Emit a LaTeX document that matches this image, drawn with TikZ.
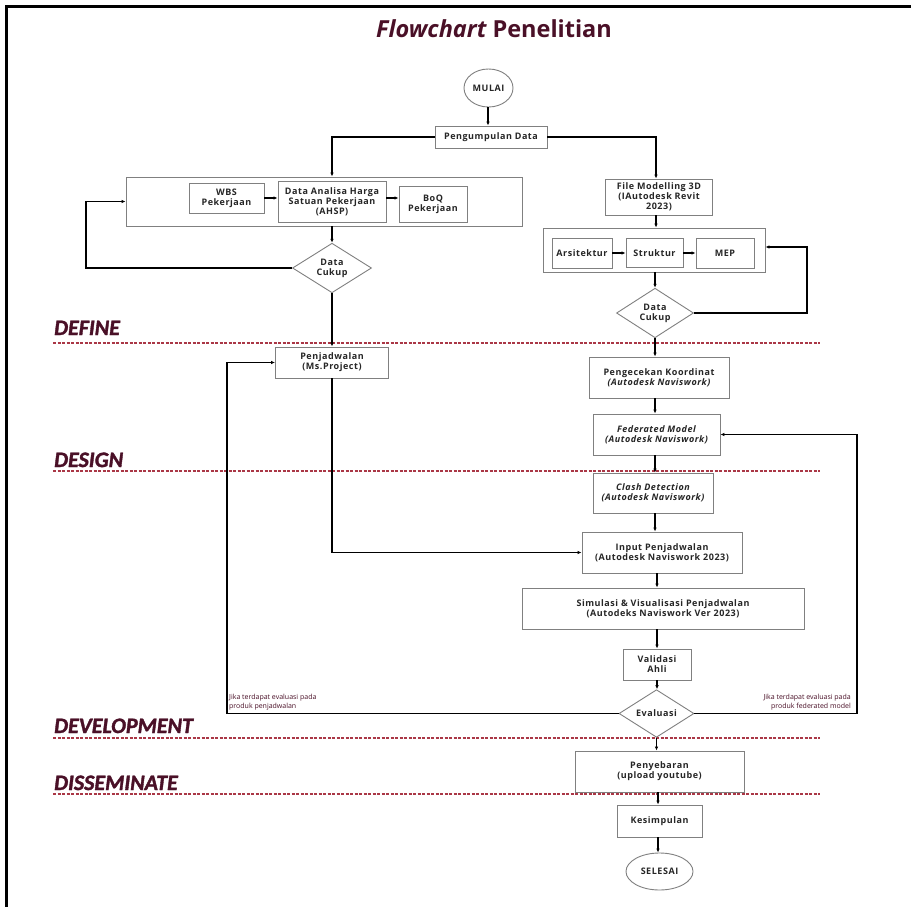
\documentclass[tikz,border=0pt]{standalone}
\usepackage{fontspec}
\setmainfont{Open Sans}
\newfontfamily\boxfont[LetterSpace=6]{Open Sans}
\newfontfamily\labfont[FakeBold=1.6]{Carlito}
\usetikzlibrary{shapes.geometric,arrows.meta}
\definecolor{maroon}{RGB}{74,16,39}
\definecolor{boxgray}{RGB}{128,128,128}
\definecolor{dashred}{RGB}{170,55,70}
\tikzset{
  box/.style={draw=boxgray, line width=0.9pt, fill=white, align=center, inner sep=0pt,
    font=\boxfont\bfseries\fontsize{9}{10}\selectfont, text=black!85},
  dia/.style={box, shape=diamond},
  term/.style={box, shape=ellipse},
  conn/.style={line width=1.1pt, -{Latex[length=4pt,width=3.5pt]}},
  phase/.style={font=\labfont\bfseries\itshape\fontsize{22}{22}\selectfont, text=maroon, anchor=base west, inner sep=0pt},
  divider/.style={draw=dashred, line width=1.2pt, dash pattern=on 3pt off 1.5pt},
  note/.style={font=\fontsize{7}{8.5}\selectfont, text=maroon, inner sep=0pt}
}
\begin{document}
\begin{tikzpicture}[x=1pt, y=-1pt]
\useasboundingbox (0,0) rectangle (911,907);
\fill[white] (0,0) rectangle (911,907);
\draw[line width=2.5pt] (6.5,907) -- (6.5,6.5) -- (911,6.5);

% title
\node[font=\bfseries\fontsize{23.5}{26}\selectfont, text=maroon, anchor=base, inner sep=0pt] (title) at (494,38) {{\itshape Flowchart} Penelitian};

% phase labels and dividers
\node[phase] (pdef) at (54,335) {DEFINE};
\node[phase] (pdes) at (54,467) {DESIGN};
\node[phase] (pdev) at (54,733) {DEVELOPMENT};
\node[phase] (pdis) at (54,790) {DISSEMINATE};
\coordinate (dl1) at (53,343); \coordinate (dr1) at (820,343);
\coordinate (dl2) at (53,471); \coordinate (dr2) at (820,471);
\coordinate (dl3) at (53,738); \coordinate (dr3) at (820,738);
\coordinate (dl4) at (53,794); \coordinate (dr4) at (820,794);
\draw[divider] (dl1) -- (dr1);
\draw[divider] (dl2) -- (dr2);
\draw[divider] (dl3) -- (dr3);
\draw[divider] (dl4) -- (dr4);

\coordinate (col) at (656,0);

% top
\node[term, minimum width=49pt, minimum height=38pt] (mulai) at (488.5,88) {MULAI};
\node[box, minimum width=112pt, minimum height=22pt] (peng) at (491,137) {Pengumpulan Data};

% left branch
\node[box, minimum width=396pt, minimum height=49pt] (lc) at (324,201.5) {};
\node[box, minimum width=75pt, minimum height=30pt] (wbs) at (226.5,198) {WBS\\Pekerjaan};
\node[box, minimum width=108pt, minimum height=41pt] (ahsp) at (332,201.5) {Data Analisa Harga\\Satuan Pekerjaan\\(AHSP)};
\node[box, minimum width=68pt, minimum height=36pt] (boq) at (433,204) {BoQ\\Pekerjaan};
\node[dia, minimum width=79pt, minimum height=46pt] (d1) at (332,268) {Data\\Cukup};
\node[box, minimum width=113pt, minimum height=31pt] (penj) at (332,362.5) {Penjadwalan\\(Ms.Project)};

% right branch
\node[box, minimum width=107pt, minimum height=36pt] (fm) at (659,197) {File Modelling 3D\\(IAutodesk Revit\\2023)};
\node[box, minimum width=222pt, minimum height=44pt] (rc) at (654,250) {};
\node[box, minimum width=60pt, minimum height=30pt] (ars) at (582,253) {Arsitektur};
\node[box, minimum width=57pt, minimum height=29pt] (str) at (654.5,253) {Struktur};
\node[box, minimum width=58pt, minimum height=30pt] (mep) at (725,253) {MEP};
\node[dia, minimum width=77pt, minimum height=40pt] (d2) at (655,313) {Data\\Cukup};
\node[box, minimum width=140pt, minimum height=41pt] (cek) at (659,377.5) {Pengecekan Koordinat\\{\itshape (Autodesk Naviswork)}};
\node[box, minimum width=127pt, minimum height=41pt] (fed) at (656.5,434.5) {{\itshape Federated Model}\\{\itshape (Autodesk Naviswork)}};
\node[box, minimum width=120pt, minimum height=40pt] (clash) at (653,493) {{\itshape Clash Detection}\\{\itshape (Autodesk Naviswork)}};
\node[box, minimum width=160pt, minimum height=41pt] (inp) at (662,552.5) {Input Penjadwalan\\(Autodesk Naviswork 2023)};
\node[box, minimum width=282pt, minimum height=41pt] (sim) at (663,608.5) {Simulasi \& Visualisasi Penjadwalan\\(Autodeks Naviswork Ver 2023)};
\node[box, minimum width=68pt, minimum height=31pt] (val) at (657,664.5) {Validasi\\Ahli};
\node[dia, minimum width=75pt, minimum height=37pt] (ev) at (656.5,713.5) {Evaluasi};
\node[box, minimum width=169pt, minimum height=41pt] (peny) at (659.5,771.5) {Penyebaran\\(upload youtube)};
\node[box, minimum width=85pt, minimum height=32pt] (kes) at (659.5,821) {Kesimpulan};
\node[term, minimum width=67pt, minimum height=37pt] (sel) at (659.5,871.5) {SELESAI};

% notes
\node[note, anchor=south west, align=left] (n1) at (229,710) {Jika terdapat evaluasi pada\\produk penjadwalan};
\node[note, anchor=south east, align=right] (n2) at (851,710) {Jika terdapat evaluasi pada\\produk federated model};

% connectors
\draw[conn] (mulai.south -| peng) ++(-3,0) -- ([xshift=-3pt]peng.north);
\draw[conn] (peng.west) -| (ahsp |- lc.north);
\draw[conn] (wbs.east) -- (ahsp.west |- wbs.east);
\draw[conn] (ahsp.east |- wbs.east) -- (boq.west |- wbs.east);
\draw[conn] (d1 |- lc.south) -- (d1.north);
\coordinate (l1) at (86,268);
\draw[conn] (d1.west) -- (l1) |- (lc.west);
\draw[conn] (d1.south) -- (penj.north);

\draw[conn] (peng.east) -| (fm.north -| col);
\draw[conn] (fm.south -| col) -- (rc.north -| col);
\draw[conn] (ars.east) -- (str.west |- ars.east);
\draw[conn] (str.east) -- (mep.west |- str.east);
\draw[conn] (rc.south -| d2) -- (d2.north);
\coordinate (r1) at (807,313);
\draw[conn] (d2.east) -- (r1) |- ([yshift=3pt]rc.east);
\draw[conn] (d2.south) -- (cek.north -| d2);
\draw[conn] (cek.south -| d2) -- (fed.north -| d2);
\draw[conn] (fed.south -| d2) -- (clash.north -| d2);
\draw[conn] (clash.south -| d2) -- (inp.north -| d2);
\draw[conn] (penj.south) |- (inp.west);
\draw[conn] (inp.south -| val) -- (sim.north -| val);
\draw[conn] (sim.south -| val) -- (val.north);
\draw[conn] (val.south) -- (ev.north -| val);
\coordinate (l2) at (227,713.5);
\draw[conn] (ev.west) -- (l2) |- (penj.west);
\coordinate (r2) at (857,713.5);
\draw[conn] (ev.east) -- (r2) |- (fed.east);
\draw[conn] (ev.south) -- (peny.north -| ev);
\draw[conn] ([xshift=-1.5pt]peny.south) -- ([xshift=-1.5pt]kes.north);
\draw[conn] ([xshift=-1.5pt]kes.south) -- ([xshift=-1.5pt]sel.north);
\end{tikzpicture}
\end{document}
